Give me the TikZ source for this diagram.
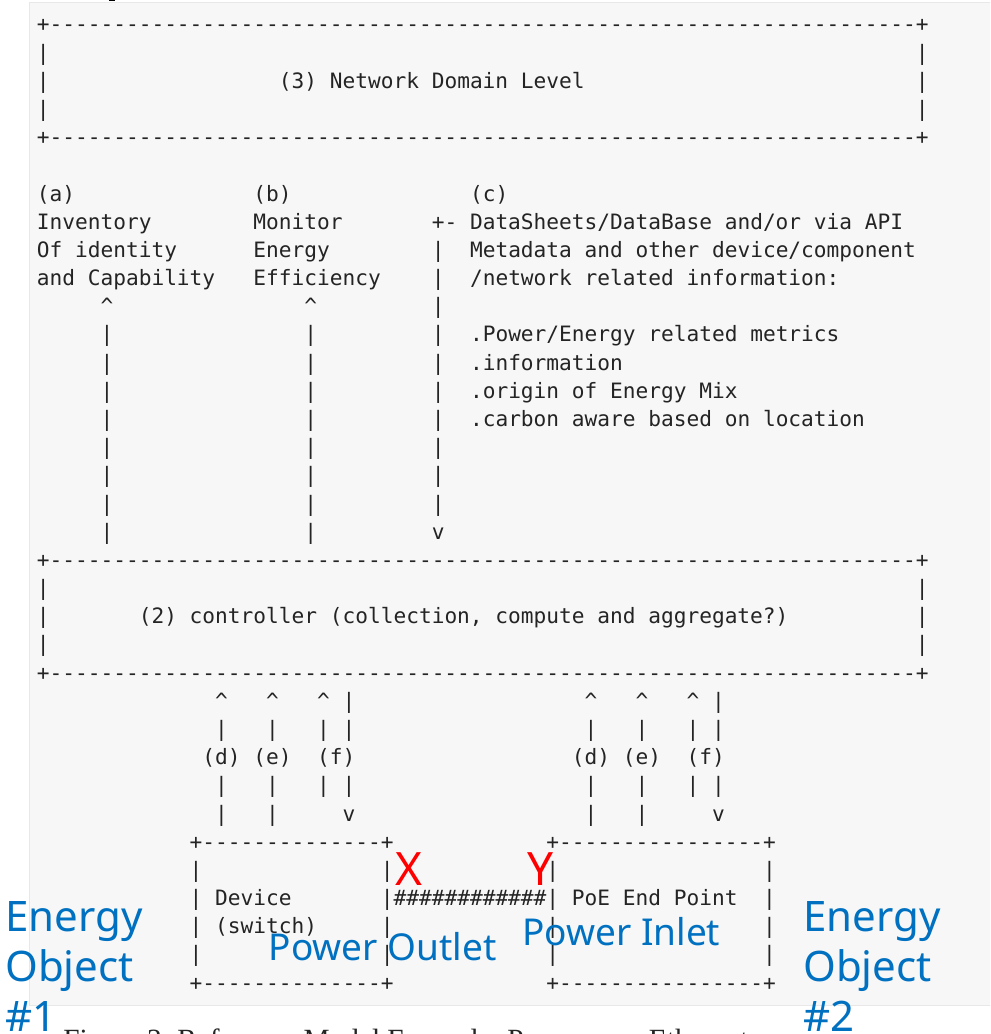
\documentclass[tikz,border=0pt]{standalone}
\usepackage{fontspec}
\setmonofont{DejaVu Sans Mono}
\newfontfamily\labelfont{Noto Sans}
\newfontfamily\captionfont{Liberation Serif}

\definecolor{asciigray}{RGB}{36,36,36}
\definecolor{panelgray}{RGB}{247,247,247}
\definecolor{panelline}{RGB}{232,232,232}
\definecolor{eoblue}{RGB}{0,112,192}
\definecolor{xyred}{RGB}{255,0,0}

\ExplSyntaxOn
\cs_new:Npn \asciirepeat #1#2 { \prg_replicate:nn {#1} {#2} }
\ExplSyntaxOff

% one piece of the ascii art at column #1, row #2
\newcommand{\asciiat}[3]{\node[asc] (r#2c#1) at ({36.6+12.74*(#1)},{32+28.18*(#2)}) {#3};}

\begin{document}
\frenchspacing
\begin{tikzpicture}[x=0.75pt,y=0.75pt,yscale=-1,xscale=1,
  asc/.style={font=\ttfamily\fontsize{15.87}{19}\selectfont, text=asciigray, anchor=base west, inner sep=0pt},
  eolabel/.style={font=\labelfont\fontsize{31.5}{37}\selectfont, text=eoblue, anchor=base west, inner sep=0pt},
  plabel/.style={font=\labelfont\fontsize{27.75}{33}\selectfont, text=eoblue, anchor=base west, inner sep=0pt},
  xylabel/.style={font=\labelfont\fontsize{34.5}{40}\selectfont, text=xyred, anchor=base, inner sep=0pt},
  capt/.style={font=\captionfont\fontsize{22}{26}\selectfont, text=asciigray, anchor=base west, inner sep=0pt}]
\useasboundingbox (0,0) rectangle (990,1034);
\clip (0,0) rectangle (990,1034);

%Shape: Rectangle (page)
\fill [white] (0,0) rectangle (990,1034);
%Shape: Rectangle (code panel)
\draw [draw=panelline, fill=panelgray] (29,2) rectangle (1000,1005);
%Shape: Rectangle (cut mark)
\fill (109,0) rectangle (115,1.3);

% (3) network domain level
\asciiat{0}{0}{+\asciirepeat{68}{-}+}
\foreach \r in {1,2,3} {\asciiat{0}{\r}{|} \asciiat{69}{\r}{|}}
\asciiat{19}{2}{(3) Network Domain Level}
\asciiat{0}{4}{+\asciirepeat{68}{-}+}

% (a) (b) (c)
\asciiat{0}{6}{(a)}
\asciiat{17}{6}{(b)}
\asciiat{34}{6}{(c)}
\asciiat{0}{7}{Inventory}
\asciiat{17}{7}{Monitor}
\asciiat{31}{7}{+- DataSheets/DataBase and/or via API}
\asciiat{0}{8}{Of identity}
\asciiat{17}{8}{Energy}
\asciiat{34}{8}{Metadata and other device/component}
\asciiat{0}{9}{and Capability}
\asciiat{17}{9}{Efficiency}
\asciiat{34}{9}{/network related information:}
\asciiat{34}{11}{.Power/Energy related metrics}
\asciiat{34}{12}{.information}
\asciiat{34}{13}{.origin of Energy Mix}
\asciiat{34}{14}{.carbon aware based on location}

%Straight Lines (a) (b) (c)
\asciiat{5}{10}{\textasciicircum}
\asciiat{21}{10}{\textasciicircum}
\foreach \r in {11,...,18} {\asciiat{5}{\r}{|} \asciiat{21}{\r}{|}}
\foreach \r in {8,...,17} {\asciiat{31}{\r}{|}}
\asciiat{31}{18}{v}

% (2) controller
\asciiat{0}{19}{+\asciirepeat{68}{-}+}
\foreach \r in {20,21,22} {\asciiat{0}{\r}{|} \asciiat{69}{\r}{|}}
\asciiat{8}{21}{(2) controller (collection, compute and aggregate?)}
\asciiat{0}{23}{+\asciirepeat{68}{-}+}

%Straight Lines (d) (e) (f)
\foreach \c in {14,18,22,43,47,51} {\asciiat{\c}{24}{\textasciicircum}}
\foreach \c in {24,53} {\asciiat{\c}{24}{|}}
\foreach \c in {14,18,22,24,43,47,51,53} {\asciiat{\c}{25}{|} \asciiat{\c}{27}{|}}
\foreach \c in {14,18,43,47} {\asciiat{\c}{28}{|}}
\foreach \c in {24,53} {\asciiat{\c}{28}{v}}
\foreach \c in {13,42} {\asciiat{\c}{26}{(d)}}
\foreach \c in {17,46} {\asciiat{\c}{26}{(e)}}
\foreach \c in {22,51} {\asciiat{\c}{26}{(f)}}

% device and PoE end point
\asciiat{12}{29}{+\asciirepeat{14}{-}+}
\asciiat{40}{29}{+\asciirepeat{16}{-}+}
\foreach \r in {30,...,33} {\foreach \c in {12,27,40,57} {\asciiat{\c}{\r}{|}}}
\asciiat{14}{31}{Device}
\asciiat{14}{32}{(switch)}
\asciiat{28}{31}{\asciirepeat{12}{\#}}
\asciiat{42}{31}{PoE End Point}
\asciiat{12}{34}{+\asciirepeat{14}{-}+}
\asciiat{40}{34}{+\asciirepeat{16}{-}+}

% Text Node
\node[xylabel] (outx) at (409,885) {X};
% Text Node
\node[xylabel] (iny) at (540.5,885) {Y};
% Text Node
\node[plabel] (outlet) at (268.5,960) {Power Outlet};
% Text Node
\node[plabel] (inlet) at (522,945) {Power Inlet};
% Text Node
\node[eolabel] (eo1a) at (5,931.7) {Energy};
\node[eolabel] (eo1b) at (5,981.7) {Object};
\node[eolabel] (eo1c) at (5,1031.7) {\#1};
% Text Node
\node[eolabel] (eo2a) at (803,931.7) {Energy};
\node[eolabel] (eo2b) at (803,981.7) {Object};
\node[eolabel] (eo2c) at (803,1031.7) {\#2};
% Text Node
\node[capt] (figcap) at (63,1049) {Figure 3: Reference Model Example: Power over Ethernet};

\end{tikzpicture}
\end{document}
